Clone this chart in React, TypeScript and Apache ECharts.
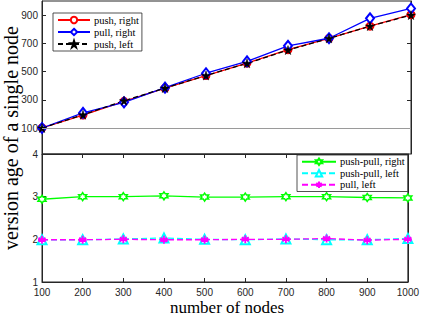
import React, { useEffect, useRef } from "react";
import * as echarts from "echarts";

const nodes = [100, 200, 300, 400, 500, 600, 700, 800, 900, 1000];
const pushRight = [100, 192, 289, 382, 472, 560, 655, 735, 822, 903];
const pullRight = [100, 207, 282, 386, 488, 572, 682, 736, 877, 947];
const pushLeft = [100, 194, 293, 383, 472, 558, 652, 735, 822, 900];
const pushPullRight = [2.94, 3.0, 3.0, 3.02, 2.99, 2.99, 3.0, 3.0, 2.98, 2.97];
const pushPullLeft = [1.99, 1.99, 2.01, 2.03, 2.0, 1.99, 2.01, 1.99, 1.99, 2.02];
const pullLeft = [1.99, 1.99, 2.0, 1.99, 1.99, 2.0, 2.0, 2.02, 1.98, 2.0];
const topTicks = [100, 300, 500, 700, 900];

const STAR =
  "path://M0,-1L0.225,-0.309L0.951,-0.309L0.363,0.118L0.588,0.809L0,0.382L-0.588,0.809L-0.363,0.118L-0.951,-0.309L-0.225,-0.309Z";
const HEXAGRAM =
  "path://M0,-1L0.289,-0.5L0.866,-0.5L0.577,0L0.866,0.5L0.289,0.5L0,1L-0.289,0.5L-0.866,0.5L-0.577,0L-0.866,-0.5L-0.289,-0.5Z";
const ASTERISK =
  "path://M0,-1L0,1M-0.866,-0.5L0.866,0.5M-0.866,0.5L0.866,-0.5M-1,0L1,0";

const AX = "#262626";
const SANS = "Liberation Sans, Arial, sans-serif";
const SERIF = "Liberation Serif, Times New Roman, serif";

const pairs = (ys: number[]) => nodes.map((x, i) => [x, ys[i]]);

export default function App() {
  const ref = useRef<HTMLDivElement>(null);
  useEffect(() => {
    if (!ref.current) return;
    const chart = echarts.init(ref.current, null, { renderer: "svg" });
    const topMax = 1000;
    const topMin = 100 - (26 * 900) / 127;
    const tick = { show: true, inside: true, length: 4, lineStyle: { color: AX, width: 1 } };
    const axLine = { show: true, lineStyle: { color: AX, width: 1 } };
    const legendText = (lh: number) => ({
      fontFamily: SERIF, fontSize: 10.5, color: "#000", lineHeight: lh, padding: [0, 0, 0, -1],
    });
    const option: any = {
      animation: false,
      backgroundColor: "#fff",
      grid: [
        { left: 42, right: 11, top: 1, height: 153, show: true, borderColor: AX, borderWidth: 1, backgroundColor: "transparent" },
        { left: 42, right: 11, top: 154, height: 128, show: true, borderColor: AX, borderWidth: 1, backgroundColor: "transparent" },
      ],
      xAxis: [
        { gridIndex: 0, type: "value", min: 100, max: 1000, show: false },
        {
          gridIndex: 1, type: "value", min: 100, max: 1000, interval: 100, position: "bottom",
          axisLine: axLine, axisTick: tick, splitLine: { show: false },
          axisLabel: { color: AX, fontFamily: SANS, fontSize: 10, margin: 5, formatter: (v: number) => String(v) },
        },
        {
          gridIndex: 1, type: "value", min: 100, max: 1000, interval: 100, position: "top",
          axisLine: axLine, axisTick: tick, splitLine: { show: false }, axisLabel: { show: false },
        },
      ],
      yAxis: [
        {
          gridIndex: 0, type: "value", min: topMin, max: topMax, position: "left",
          axisLine: axLine,
          axisTick: { ...tick, customValues: topTicks },
          axisLabel: { color: AX, fontFamily: SANS, fontSize: 10, margin: 4, customValues: topTicks },
          splitLine: { show: false },
        },
        {
          gridIndex: 0, type: "value", min: topMin, max: topMax, position: "right",
          axisLine: axLine,
          axisTick: { ...tick, customValues: topTicks },
          axisLabel: { show: false, customValues: topTicks },
          splitLine: { show: false },
        },
        {
          gridIndex: 1, type: "value", min: 1, max: 4, interval: 1, position: "left",
          axisLine: axLine, axisTick: tick,
          axisLabel: { color: AX, fontFamily: SANS, fontSize: 10, margin: 4 },
          splitLine: { show: false },
        },
        {
          gridIndex: 1, type: "value", min: 1, max: 4, interval: 1, position: "right",
          axisLine: axLine, axisTick: tick, axisLabel: { show: false }, splitLine: { show: false },
        },
      ],
      legend: [
        {
          data: ["push, right", "pull, right", "push, left"],
          orient: "vertical", left: 53, top: 13,
          itemWidth: 32, itemHeight: 8, itemGap: 0,
          padding: [1, 3, 1, 4],
          borderColor: AX, borderWidth: 0.8, backgroundColor: "#fff",
          textStyle: legendText(12),
          z: 10,
        },
        {
          data: ["push-pull, right", "push-pull, left", "pull, left"],
          orient: "vertical", left: 297, top: 155,
          itemWidth: 34, itemHeight: 8, itemGap: 0,
          padding: [1, 3, 1, 4],
          borderColor: AX, borderWidth: 0.8, backgroundColor: "#fff",
          textStyle: legendText(11.5),
          z: 10,
        },
      ],
      series: [
        {
          name: "push, right", type: "line", xAxisIndex: 0, yAxisIndex: 0, data: pairs(pushRight),
          symbol: "emptyCircle", symbolSize: 7,
          lineStyle: { color: "#ff0000", width: 1.3 },
          itemStyle: { color: "#ff0000", borderColor: "#ff0000", borderWidth: 1.2 },
          markLine: {
            silent: true, symbol: "none", label: { show: false },
            lineStyle: { color: "#9a9a9a", type: "solid", width: 1 },
            data: [{ yAxis: 100 }],
          },
        },
        {
          name: "pull, right", type: "line", xAxisIndex: 0, yAxisIndex: 0, data: pairs(pullRight),
          symbol: "emptyDiamond", symbolSize: [8, 10],
          lineStyle: { color: "#0000ff", width: 1.3 },
          itemStyle: { color: "#0000ff", borderColor: "#0000ff", borderWidth: 1.2 },
        },
        {
          name: "push, left", type: "line", xAxisIndex: 0, yAxisIndex: 0, data: pairs(pushLeft),
          symbol: STAR, symbolSize: 9,
          lineStyle: { color: "#000", width: 1.3, type: [5, 3] },
          itemStyle: { color: "#000", borderColor: "#000", borderWidth: 0.5 },
        },
        {
          name: "push-pull, right", type: "line", xAxisIndex: 1, yAxisIndex: 2, data: pairs(pushPullRight),
          symbol: HEXAGRAM, symbolSize: 8,
          lineStyle: { color: "#00ff00", width: 1.3 },
          itemStyle: { color: "#fff", borderColor: "#00ff00", borderWidth: 1.5 },
        },
        {
          name: "push-pull, left", type: "line", xAxisIndex: 1, yAxisIndex: 2, data: pairs(pushPullLeft),
          symbol: "emptyTriangle", symbolSize: 9,
          lineStyle: { color: "#00ffff", width: 1.3, type: [6, 3] },
          itemStyle: { color: "#00ffff", borderColor: "#00ffff", borderWidth: 1.3 },
        },
        {
          name: "pull, left", type: "line", xAxisIndex: 1, yAxisIndex: 2, data: pairs(pullLeft),
          symbol: ASTERISK, symbolSize: 8,
          lineStyle: { color: "#ff00ff", width: 1.3, type: [6, 3] },
          itemStyle: { color: "#ff00ff", borderColor: "#ff00ff", borderWidth: 1.8 },
        },
      ],
      graphic: [
        {
          type: "text", x: 227, y: 307,
          style: { text: "number of nodes", font: `17px ${SERIF}`, fill: "#000", align: "center", verticalAlign: "middle" },
        },
        {
          type: "text", x: 11, y: 138, rotation: Math.PI / 2,
          style: { text: "version age of a single node", font: `20px ${SERIF}`, fill: "#000", align: "center", verticalAlign: "middle" },
        },
      ],
    };
    chart.setOption(option);
    return () => chart.dispose();
  }, []);
  return (
    <div
      ref={ref}
      style={{ position: "absolute", left: 0, top: 0, width: 422, height: 318, background: "#fff" }}
    />
  );
}
